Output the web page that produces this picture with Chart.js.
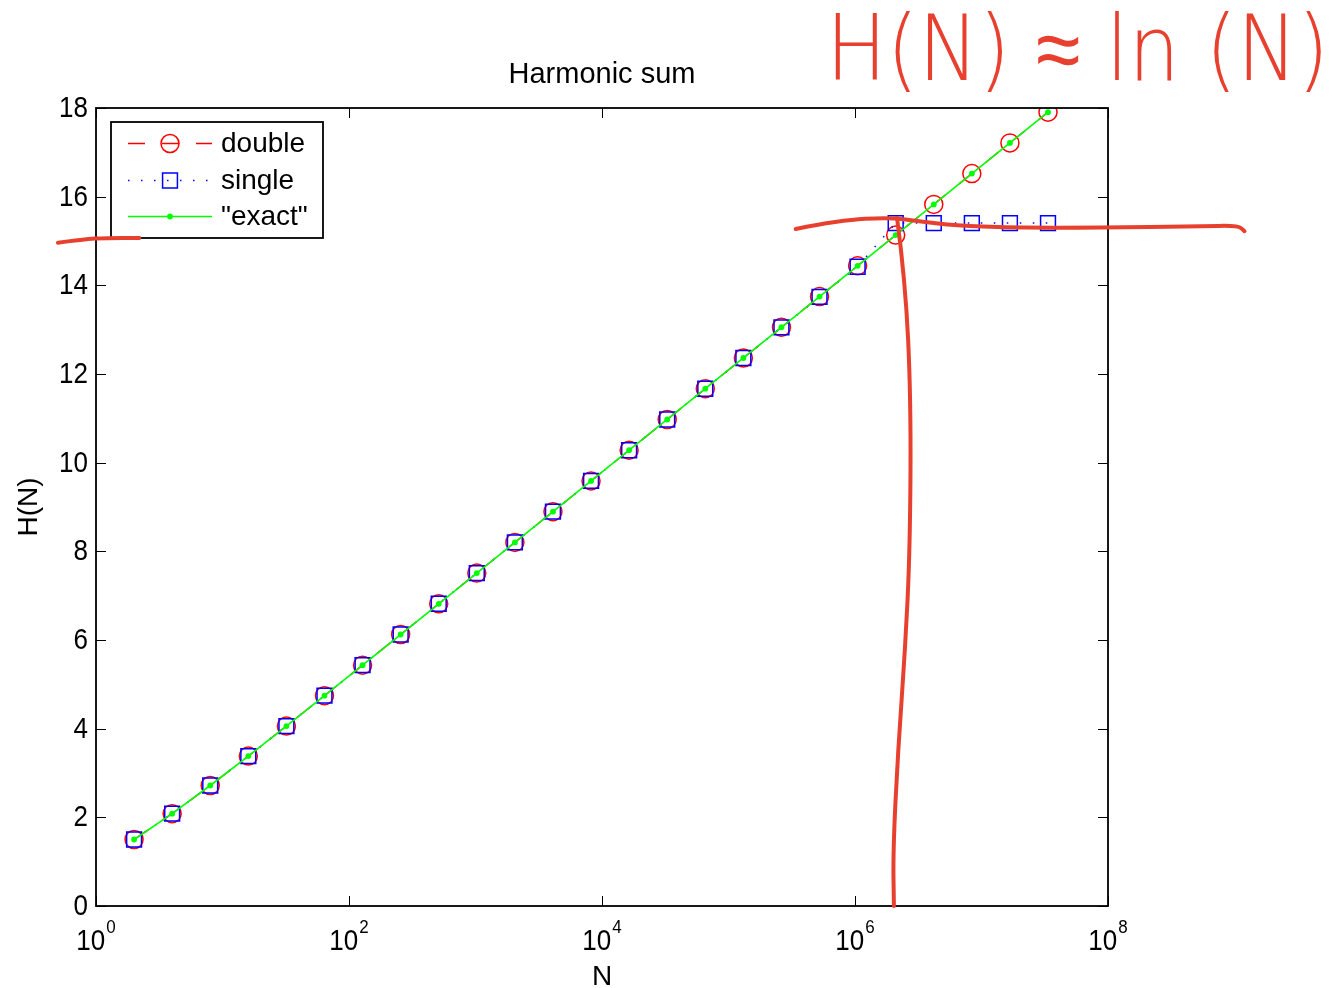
<!DOCTYPE html>
<html>
<head>
<meta charset="utf-8">
<title>Harmonic sum</title>
<script src="https://cdn.jsdelivr.net/npm/chart.js@4.4.1/dist/chart.umd.min.js"></script>
<style>
  html, body { margin: 0; padding: 0; background: #ffffff; overflow: hidden; }
  canvas { display: block; }
</style>
</head>
<body>
<canvas id="chart" width="1332" height="988"></canvas>
<script>
// Number of terms N = 2, 4, 8, ..., 2^25
const N = [2, 4, 8, 16, 32, 64, 128, 256, 512, 1024, 2048, 4096, 8192, 16384,
  32768, 65536, 131072, 262144, 524288, 1048576, 2097152, 4194304, 8388608,
  16777216, 33554432];

// Partial harmonic sums H(N)
const hDouble = [1.500, 2.083, 2.718, 3.381, 4.059, 4.744, 5.433, 6.124, 6.817,
  7.509, 8.202, 8.895, 9.588, 10.281, 10.974, 11.668, 12.361, 13.054, 13.747,
  14.440, 15.133, 15.826, 16.520, 17.213, 17.906];
const hSingle = [1.500, 2.083, 2.718, 3.381, 4.059, 4.744, 5.433, 6.124, 6.817,
  7.509, 8.202, 8.895, 9.588, 10.281, 10.974, 11.668, 12.360, 13.050, 13.740,
  14.420, 15.404, 15.404, 15.404, 15.404, 15.404];
const hExact = [1.500, 2.083, 2.718, 3.381, 4.059, 4.744, 5.433, 6.124, 6.817,
  7.509, 8.202, 8.895, 9.588, 10.281, 10.974, 11.668, 12.361, 13.054, 13.747,
  14.440, 15.133, 15.826, 16.520, 17.213, 17.906];

const seriesNames = ['double', 'single', '"exact"'];
const xTickExponents = [0, 2, 4, 6, 8];
const yTickValues = [0, 2, 4, 6, 8, 10, 12, 14, 16, 18];
const titleText = 'Harmonic sum';
const xAxisTitle = 'N';
const yAxisTitle = 'H(N)';
const noteText = 'H(N) \u2248 ln (N)';

// Free-hand ink strokes, given in data units (N, H)
const inkLeft = [[0.50, 14.96], [0.80, 15.04], [1.20, 15.07], [2.20, 15.07]];
const inkPlateau = [[3.4e5, 15.27], [7.6e5, 15.47], [1.9e6, 15.53], [3.3e6, 15.44],
  [6.2e6, 15.35], [1.7e7, 15.30], [8.6e7, 15.30], [5.3e8, 15.33], [1.07e9, 15.35],
  [1.2e9, 15.22]];
const inkDrop = [[2.15e6, 15.52], [2.5e6, 14.12], [2.77e6, 11.41], [2.72e6, 8.03],
  [2.49e6, 5.77], [2.19e6, 3.52], [2.0e6, 1.26], [2.03e6, 0.0]];

const FONT = '"Liberation Sans", Helvetica, Arial, sans-serif';
const INK = '#e8402e';

function toPoints(ys) {
  return N.map((n, i) => ({ x: n, y: ys[i] }));
}

// draws text slightly stretched vertically, as the axis fonts are drawn tall
function tallText(ctx, text, x, y, sy) {
  ctx.save();
  ctx.translate(x, y);
  ctx.scale(1, sy);
  ctx.fillText(text, 0, 0);
  ctx.restore();
}

// Axes box, inward ticks, labels, title, legend and ink overlay
const frame = {
  id: 'frame',
  afterDraw(chart) {
    const ctx = chart.ctx;
    const a = chart.chartArea;
    const xs = chart.scales.x, ys = chart.scales.y;
    const tickLen = 10;

    ctx.save();
    // inward tick marks on all four sides
    ctx.strokeStyle = '#000';
    ctx.lineWidth = 1;
    ctx.beginPath();
    xTickExponents.forEach(e => {
      const px = Math.round(xs.getPixelForValue(Math.pow(10, e))) + 0.5;
      ctx.moveTo(px, a.bottom); ctx.lineTo(px, a.bottom - tickLen);
      ctx.moveTo(px, a.top); ctx.lineTo(px, a.top + tickLen);
    });
    yTickValues.forEach(v => {
      const py = Math.round(ys.getPixelForValue(v)) + 0.5;
      ctx.moveTo(a.left, py); ctx.lineTo(a.left + tickLen, py);
      ctx.moveTo(a.right, py); ctx.lineTo(a.right - tickLen, py);
    });
    ctx.stroke();

    // axes box
    ctx.lineWidth = 1.8;
    ctx.strokeRect(a.left, a.top, a.right - a.left, a.bottom - a.top);

    // x tick labels: 10 with superscript exponent
    ctx.fillStyle = '#000';
    ctx.textBaseline = 'alphabetic';
    ctx.textAlign = 'left';
    xTickExponents.forEach(e => {
      const px = xs.getPixelForValue(Math.pow(10, e));
      ctx.font = '26px ' + FONT;
      const bw = ctx.measureText('10').width;
      ctx.font = '17px ' + FONT;
      const ew = ctx.measureText(String(e)).width;
      const left = px - (bw + ew + 1) / 2;
      ctx.font = '26px ' + FONT;
      tallText(ctx, '10', left, a.bottom + 44, 1.1);
      ctx.font = '17px ' + FONT;
      tallText(ctx, String(e), left + bw + 1, a.bottom + 27, 1.1);
    });

    // y tick labels
    ctx.font = '26px ' + FONT;
    ctx.textAlign = 'right';
    ctx.textBaseline = 'middle';
    yTickValues.forEach(v => {
      tallText(ctx, String(v), a.left - 8, ys.getPixelForValue(v) + 1, 1.1);
    });

    // title and axis titles
    const cx = (a.left + a.right) / 2;
    ctx.font = '29px ' + FONT;
    ctx.textAlign = 'center';
    ctx.textBaseline = 'alphabetic';
    ctx.fillText(titleText, cx, 83);
    ctx.font = '28px ' + FONT;
    ctx.fillText(xAxisTitle, cx, a.bottom + 79);
    ctx.save();
    ctx.translate(37, (a.top + a.bottom) / 2);
    ctx.rotate(-Math.PI / 2);
    ctx.fillText(yAxisTitle, 0, 0);
    ctx.restore();

    // legend
    const lg = { x: a.left + 15, y: a.top + 14, w: 212, h: 116 };
    ctx.fillStyle = '#fff';
    ctx.fillRect(lg.x, lg.y, lg.w, lg.h);
    ctx.lineWidth = 1.8;
    ctx.strokeStyle = '#000';
    ctx.strokeRect(lg.x, lg.y, lg.w, lg.h);
    const rowY = [lg.y + 21.5, lg.y + 58.5, lg.y + 94.5];
    const x0 = lg.x + 17, x1 = lg.x + 101, xm = lg.x + 59;
    chart.data.datasets.forEach((ds, i) => {
      const y = rowY[i];
      ctx.save();
      ctx.beginPath();
      ctx.rect(x0, y - 5, x1 - x0, 10);
      ctx.clip();
      ctx.strokeStyle = ds.borderColor;
      ctx.lineWidth = ds.borderWidth;
      ctx.setLineDash(ds.borderDash || []);
      ctx.lineDashOffset = 0;
      ctx.beginPath();
      ctx.moveTo(x0, y); ctx.lineTo(x1 + 2, y);
      ctx.stroke();
      ctx.restore();
      ctx.save();
      ctx.setLineDash([]);
      ctx.strokeStyle = ds.pointBorderColor;
      ctx.lineWidth = ds.pointBorderWidth;
      ctx.beginPath();
      if (ds.pointStyle === 'rect') {
        const s = ds.pointRadius * Math.SQRT1_2;
        ctx.rect(xm - s, y - s, 2 * s, 2 * s);
        ctx.stroke();
      } else {
        ctx.arc(xm, y, ds.pointRadius, 0, Math.PI * 2);
        if (ds.pointBackgroundColor && ds.pointBackgroundColor !== 'transparent') {
          ctx.fillStyle = ds.pointBackgroundColor;
          ctx.fill();
        }
        if (ds.pointBorderWidth > 0) ctx.stroke();
      }
      ctx.restore();
      ctx.fillStyle = '#000';
      ctx.font = '28px ' + FONT;
      ctx.textAlign = 'left';
      ctx.textBaseline = 'middle';
      ctx.fillText(seriesNames[i], lg.x + 110, y + 1);
    });

    // free-hand ink overlay
    const stroke = (pts) => {
      const p = pts.map(([n, h]) => [xs.getPixelForValue(n), ys.getPixelForValue(h)]);
      ctx.beginPath();
      ctx.moveTo(p[0][0], p[0][1]);
      for (let i = 1; i < p.length - 1; i++) {
        const mx = (p[i][0] + p[i + 1][0]) / 2, my = (p[i][1] + p[i + 1][1]) / 2;
        ctx.quadraticCurveTo(p[i][0], p[i][1], mx, my);
      }
      ctx.lineTo(p[p.length - 1][0], p[p.length - 1][1]);
      ctx.stroke();
    };
    ctx.strokeStyle = INK;
    ctx.lineWidth = 4;
    ctx.lineCap = 'round';
    ctx.lineJoin = 'round';
    ctx.setLineDash([]);
    stroke(inkLeft);
    stroke(inkPlateau);
    stroke(inkDrop);

    // handwritten note
    ctx.fillStyle = INK;
    ctx.font = '200 90px "DejaVu Sans", ' + FONT;
    ctx.textAlign = 'left';
    ctx.textBaseline = 'alphabetic';
    const nw = ctx.measureText(noteText).width;
    ctx.save();
    ctx.translate(826, 80);
    ctx.scale(503 / nw, 1);
    ctx.fillText(noteText, 0, 0);
    ctx.restore();

    ctx.restore();
  }
};

new Chart(document.getElementById('chart'), {
  type: 'line',
  data: {
    datasets: [
      {
        label: seriesNames[0],
        data: toPoints(hDouble),
        order: 3,
        borderColor: '#ff0000',
        borderWidth: 1.4,
        borderDash: [17, 17],
        pointStyle: 'circle',
        pointRadius: 9,
        pointBorderColor: '#ff0000',
        pointBackgroundColor: 'transparent',
        pointBorderWidth: 1.5
      },
      {
        label: seriesNames[1],
        data: toPoints(hSingle),
        order: 2,
        borderColor: '#0000ff',
        borderWidth: 1.5,
        borderDash: [1.5, 11.5],
        pointStyle: 'rect',
        pointRadius: 10.5,
        pointBorderColor: '#0000ff',
        pointBackgroundColor: 'transparent',
        pointBorderWidth: 1.5
      },
      {
        label: seriesNames[2],
        data: toPoints(hExact),
        order: 1,
        borderColor: '#00ff00',
        borderWidth: 1.6,
        pointStyle: 'circle',
        pointRadius: 2.9,
        pointBorderColor: '#00ff00',
        pointBackgroundColor: '#00ff00',
        pointBorderWidth: 0
      }
    ]
  },
  options: {
    responsive: false,
    animation: false,
    devicePixelRatio: 1,
    layout: { padding: { left: 96, right: 224, top: 108, bottom: 82 } },
    elements: { line: { tension: 0 } },
    scales: {
      x: { type: 'logarithmic', min: 1, max: 1e8, display: false },
      y: { type: 'linear', min: 0, max: 18, display: false }
    },
    plugins: {
      legend: { display: false },
      title: { display: false },
      tooltip: { enabled: false }
    }
  },
  plugins: [frame]
});
</script>
</body>
</html>
